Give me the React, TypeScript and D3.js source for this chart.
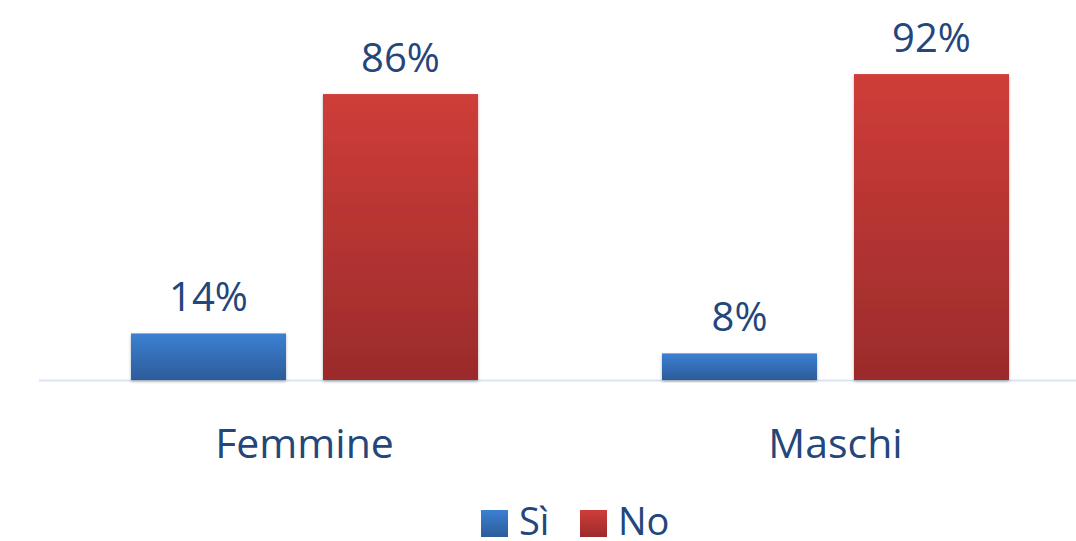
import React from "react";
import * as d3 from "d3";

const categories = ["Femmine", "Maschi"];
const seriesNames = ["Sì", "No"];
const siValues = [0.14, 0.08];
const noValues = [0.86, 0.92];
const labelsSi = ["14%", "8%"];
const labelsNo = ["86%", "92%"];

const W = 1076;
const H = 541;
const FONT = "'Open Sans', Lato, sans-serif";
const TEXT = "#24467a";

export default function App() {
  const baseY = 380;
  const x0 = d3.scaleBand().domain(categories).range([39, 1101]).paddingInner(0).paddingOuter(0);
  const x1 = d3.scaleBand().domain(seriesNames).range([0, x0.bandwidth()]).paddingInner(0.1927).paddingOuter(0.479);
  const y = d3.scaleLinear().domain([0, 1]).range([baseY, baseY - 332.5]);
  const series = [
    { name: "Sì", values: siValues, labels: labelsSi, grad: "gBlue" },
    { name: "No", values: noValues, labels: labelsNo, grad: "gRed" },
  ];
  return (
    <svg width={W} height={H} style={{ position: "absolute", left: 0, top: 0, background: "#fff" }}>
      <defs>
        <linearGradient id="gBlue" x1="0" y1="0" x2="0" y2="1">
          <stop offset="0" stopColor="#3c80d2" />
          <stop offset="1" stopColor="#2c5c9a" />
        </linearGradient>
        <linearGradient id="gRed" x1="0" y1="0" x2="0" y2="1">
          <stop offset="0" stopColor="#cf3d39" />
          <stop offset="1" stopColor="#9b2b2b" />
        </linearGradient>
        <filter id="sh" x="-10%" y="-10%" width="120%" height="120%">
          <feDropShadow dx="0" dy="1.5" stdDeviation="1.5" floodColor="#000" floodOpacity="0.3" />
        </filter>
      </defs>
      <line x1={39} x2={1076} y1={baseY + 0.5} y2={baseY + 0.5} stroke="#d9e4f5" strokeWidth={2} />
      {series.map((s) =>
        categories.map((c, i) => {
          const bx = (x0(c) as number) + (x1(s.name) as number);
          const top = y(s.values[i]);
          return (
            <g key={s.name + c}>
              <rect x={bx} y={top} width={x1.bandwidth()} height={baseY - top} fill={`url(#${s.grad})`} filter="url(#sh)" />
              <text x={bx + x1.bandwidth() / 2} y={top - 22} textAnchor="middle" fontFamily={FONT} fontSize={40} fill={TEXT}>
                {s.labels[i]}
              </text>
            </g>
          );
        })
      )}
      {categories.map((c) => (
        <text key={c} x={(x0(c) as number) + x0.bandwidth() / 2} y={458} textAnchor="middle" fontFamily={FONT} fontSize={41} fill={TEXT}>
          {c}
        </text>
      ))}
      <g>
        <rect x={481} y={510} width={27} height={27} fill="url(#gBlue)" />
        <text x={519} y={535} fontFamily={FONT} fontSize={38} fill={TEXT}>Sì</text>
        <rect x={580} y={510} width={27} height={27} fill="url(#gRed)" />
        <text x={618} y={535} fontFamily={FONT} fontSize={38} fill={TEXT}>No</text>
      </g>
    </svg>
  );
}
